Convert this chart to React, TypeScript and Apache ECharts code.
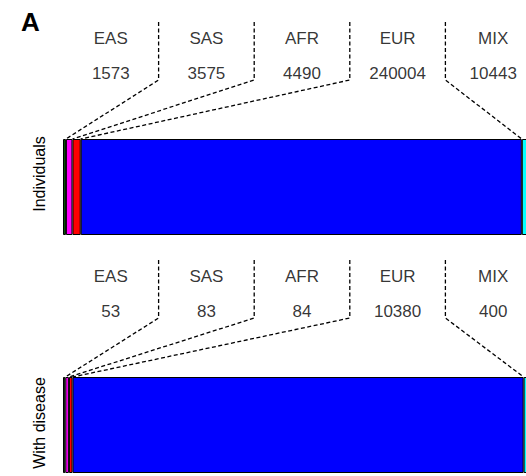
import React, { useEffect, useRef } from "react";
import * as echarts from "echarts";

const groups = ["EAS", "SAS", "AFR", "EUR", "MIX"];
const individuals = [1573, 3575, 4490, 240004, 10443];
const withDisease = [53, 83, 84, 10380, 400];
const colors = ["#006400", "#ff00ff", "#ff0000", "#0000ff", "#00ffff"];
const panelTitles = ["Individuals", "With disease"];

const FONT = "'Liberation Sans', Arial, Helvetica, sans-serif";

function panel(values: number[], barGrid: number, labelGrid: number) {
  const total = values.reduce((a, b) => a + b, 0);
  const series: any[] = [];
  values.forEach((v, i) => {
    series.push({
      type: "bar",
      name: groups[i],
      xAxisIndex: barGrid,
      yAxisIndex: barGrid,
      stack: "s" + barGrid,
      barWidth: "100%",
      data: [v],
      itemStyle: { color: colors[i], borderColor: "#000", borderWidth: 1 },
      emphasis: { disabled: true },
    });
  });
  // connectors
  let cum = 0;
  for (let k = 1; k < values.length; k++) {
    cum += values[k - 1];
    const sep = (total * k) / values.length;
    series.push({
      type: "line",
      xAxisIndex: labelGrid,
      yAxisIndex: labelGrid,
      symbol: "none",
      clip: false,
      data: [
        [sep, 117],
        [sep, 59],
        [cum, 0],
      ],
      lineStyle: { color: "#000", width: 1.3, type: [4, 2.5] },
      emphasis: { disabled: true },
    });
  }
  // labels
  const labelData: any[] = [];
  values.forEach((v, i) => {
    const cx = (total * (i + 0.5)) / values.length;
    labelData.push({ value: [cx, 101], name: groups[i] });
    labelData.push({ value: [cx, 65.5], name: String(v) });
  });
  series.push({
    type: "scatter",
    xAxisIndex: labelGrid,
    yAxisIndex: labelGrid,
    symbolSize: 1,
    itemStyle: { color: "transparent" },
    data: labelData,
    label: {
      show: true,
      position: "inside",
      formatter: "{b}",
      color: "#000",
      fontSize: 17,
      fontFamily: FONT,
    },
    emphasis: { disabled: true },
  });
  return { total, series };
}

export default function App() {
  const ref = useRef<HTMLDivElement>(null);
  useEffect(() => {
    if (!ref.current) return;
    const chart = echarts.init(ref.current, undefined, { renderer: "svg" });
    const p1 = panel(individuals, 0, 1);
    const p2 = panel(withDisease, 2, 3);
    const W = 478;
    const grids = [
      { left: 63, top: 139, width: W, height: 96 },
      { left: 63, top: 22, width: W, height: 117 },
      { left: 63, top: 377, width: W, height: 96 },
      { left: 63, top: 260, width: W, height: 117 },
    ];
    const totals = [p1.total, p1.total, p2.total, p2.total];
    const option: any = {
      animation: false,
      backgroundColor: "#fff",
      grid: grids,
      xAxis: grids.map((_, i) => ({
        type: "value",
        gridIndex: i,
        min: 0,
        max: totals[i],
        show: false,
      })),
      yAxis: grids.map((_, i) =>
        i % 2 === 0
          ? { type: "category", gridIndex: i, data: [""], show: false }
          : { type: "value", gridIndex: i, min: 0, max: 117, show: false }
      ),
      series: [...p1.series, ...p2.series],
      graphic: [
        {
          type: "text",
          x: 21,
          y: 22,
          style: {
            text: "A",
            font: `bold 26px ${FONT}`,
            fill: "#000",
            verticalAlign: "middle",
            align: "left",
          },
        },
        {
          type: "text",
          x: 39,
          y: 174,
          rotation: Math.PI / 2,
          style: {
            text: panelTitles[0],
            font: `16px ${FONT}`,
            fill: "#000",
            align: "center",
            verticalAlign: "middle",
          },
        },
        {
          type: "text",
          x: 39,
          y: 423,
          rotation: Math.PI / 2,
          style: {
            text: panelTitles[1],
            font: `16px ${FONT}`,
            fill: "#000",
            align: "center",
            verticalAlign: "middle",
          },
        },
      ],
    };
    chart.setOption(option);
    return () => chart.dispose();
  }, []);
  return (
    <div
      style={{
        position: "fixed",
        left: 0,
        top: 0,
        width: 526,
        height: 476,
        overflow: "hidden",
        background: "#fff",
      }}
    >
      <div ref={ref} style={{ width: 560, height: 476 }} />
    </div>
  );
}
